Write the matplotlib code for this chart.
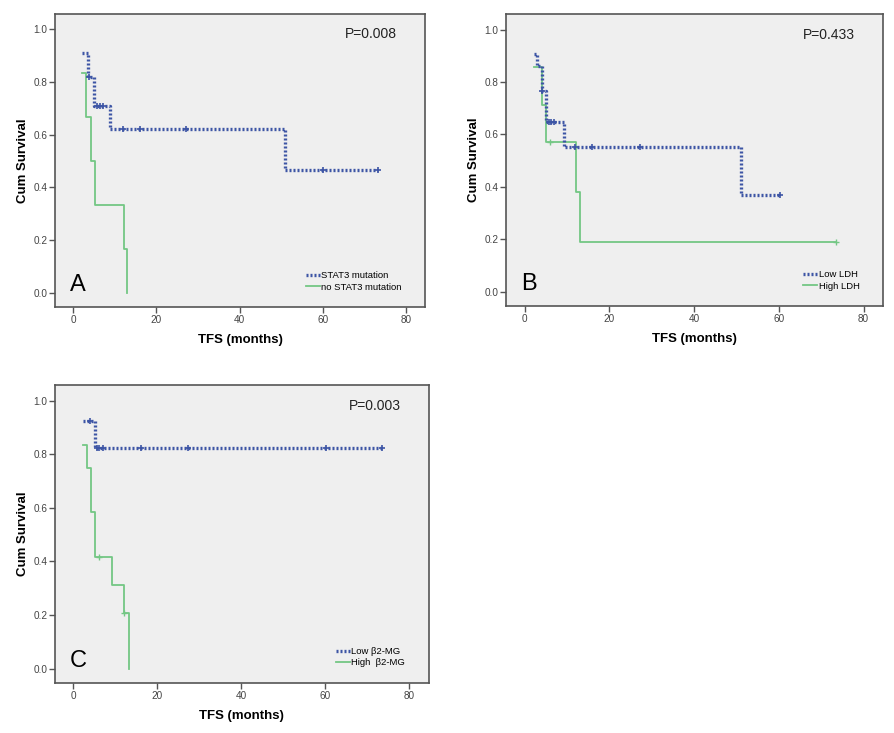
import matplotlib
matplotlib.use('Agg')
import matplotlib.pyplot as plt

plt.rcParams['font.family'] = ['Liberation Sans', 'DejaVu Sans']

# Panel A: STAT3 mutation
a_mut_t = [2.2, 3.6, 5.0, 8.8, 51.0, 73.2]
a_mut_s = [0.909, 0.818, 0.709, 0.620, 0.465, 0.465]
a_mut_cens_t = [3.9, 5.6, 6.4, 7.2, 12.0, 16.0, 27.0, 60.0, 73.2]
a_mut_cens_s = [0.818, 0.709, 0.709, 0.709, 0.620, 0.620, 0.620, 0.465, 0.465]
a_wt_t = [2.2, 3.0, 4.2, 5.2, 12.2, 13.0]
a_wt_s = [0.833, 0.667, 0.500, 0.333, 0.167, 0.0]
a_wt_cens_t = []
a_wt_cens_s = []

# Panel B: LDH
b_low_t = [2.2, 2.9, 4.1, 5.1, 9.2, 51.1, 60.2]
b_low_s = [0.905, 0.862, 0.765, 0.647, 0.553, 0.369, 0.369]
b_low_cens_t = [4.2, 5.7, 6.3, 6.9, 11.8, 16.0, 27.2, 60.2]
b_low_cens_s = [0.765, 0.647, 0.647, 0.647, 0.553, 0.553, 0.553, 0.369]
b_high_t = [2.2, 4.1, 5.0, 12.1, 13.0, 73.4]
b_high_s = [0.857, 0.714, 0.571, 0.381, 0.190, 0.190]
b_high_cens_t = [5.9, 73.4]
b_high_cens_s = [0.571, 0.190]

# Panel C: beta2-MG
c_low_t = [2.2, 5.2, 73.5]
c_low_s = [0.925, 0.822, 0.822]
c_low_cens_t = [4.0, 5.6, 6.2, 7.0, 16.1, 27.2, 60.2, 73.5]
c_low_cens_s = [0.925, 0.822, 0.822, 0.822, 0.822, 0.822, 0.822, 0.822]
c_high_t = [2.2, 3.2, 4.1, 5.2, 9.1, 12.1, 13.2]
c_high_s = [0.833, 0.750, 0.583, 0.417, 0.3125, 0.208, 0.0]
c_high_cens_t = [6.2, 12.0]
c_high_cens_s = [0.417, 0.208]

p_values = ['P=0.008', 'P=0.433', 'P=0.003']
panel_letters = ['A', 'B', 'C']
labels_blue = ['STAT3 mutation', 'Low LDH', 'Low β2-MG']
labels_green = ['no STAT3 mutation', 'High LDH', 'High  β2-MG']

BLUE = '#3d55a5'
GREEN = '#74c784'
EDGE = '#555555'


def km_panel(ax, blue, green, pval, letter, lab_b, lab_g):
    ax.set_facecolor('#efefef')
    bt, bs, bct, bcs = blue
    gt, gs, gct, gcs = green
    ax.step(gt, gs, where='post', color=GREEN, lw=1.3, label=lab_g, zorder=2)
    if gct:
        ax.plot(gct, gcs, '+', color=GREEN, ms=5, mew=1.0, zorder=2)
    ax.step(bt, bs, where='post', color=BLUE, lw=2.4, ls=(0, (0.6, 0.6)),
            label=lab_b, zorder=3)
    ax.plot(bct, bcs, '+', color=BLUE, ms=5, mew=1.2, zorder=3)

    ax.set_xlim(-4.4, 84.6)
    ax.set_ylim(-0.054, 1.058)
    ax.set_xticks([0, 20, 40, 60, 80])
    ax.set_yticks([0.0, 0.2, 0.4, 0.6, 0.8, 1.0])
    ax.set_yticklabels(['0.0', '0.2', '0.4', '0.6', '0.8', '1.0'])
    ax.tick_params(labelsize=7.2, labelcolor='#444444', color=EDGE,
                   length=4, width=1, pad=1.5)
    for sp in ax.spines.values():
        sp.set_color(EDGE)
        sp.set_linewidth(1.2)
    ax.set_xlabel('TFS (months)', fontsize=9.5, fontweight='bold', labelpad=7)
    ax.set_ylabel('Cum Survival', fontsize=9.5, fontweight='bold', labelpad=3)
    ax.text(0.925, 0.93, pval, transform=ax.transAxes, fontsize=10,
            ha='right', va='center', color='#222222')
    ax.text(0.04, 0.075, letter, transform=ax.transAxes, fontsize=17,
            ha='left', va='center')
    handles, labels = ax.get_legend_handles_labels()
    ax.legend(handles[::-1], labels[::-1], loc='lower right',
              bbox_to_anchor=(0.955, 0.03), frameon=False, fontsize=6.8,
              handlelength=1.5, handletextpad=0.15, labelspacing=0.25,
              borderpad=0.2)


fig = plt.figure(figsize=(8.94, 7.33), dpi=100)
ax_a = fig.add_axes([0.0615, 0.581, 0.414, 0.400])
ax_b = fig.add_axes([0.566, 0.5825, 0.4217, 0.398])
ax_c = fig.add_axes([0.0615, 0.0682, 0.418, 0.4066])

km_panel(ax_a, (a_mut_t, a_mut_s, a_mut_cens_t, a_mut_cens_s),
         (a_wt_t, a_wt_s, a_wt_cens_t, a_wt_cens_s),
         p_values[0], panel_letters[0], labels_blue[0], labels_green[0])
km_panel(ax_b, (b_low_t, b_low_s, b_low_cens_t, b_low_cens_s),
         (b_high_t, b_high_s, b_high_cens_t, b_high_cens_s),
         p_values[1], panel_letters[1], labels_blue[1], labels_green[1])
km_panel(ax_c, (c_low_t, c_low_s, c_low_cens_t, c_low_cens_s),
         (c_high_t, c_high_s, c_high_cens_t, c_high_cens_s),
         p_values[2], panel_letters[2], labels_blue[2], labels_green[2])

fig.savefig('out.png', dpi=100)
